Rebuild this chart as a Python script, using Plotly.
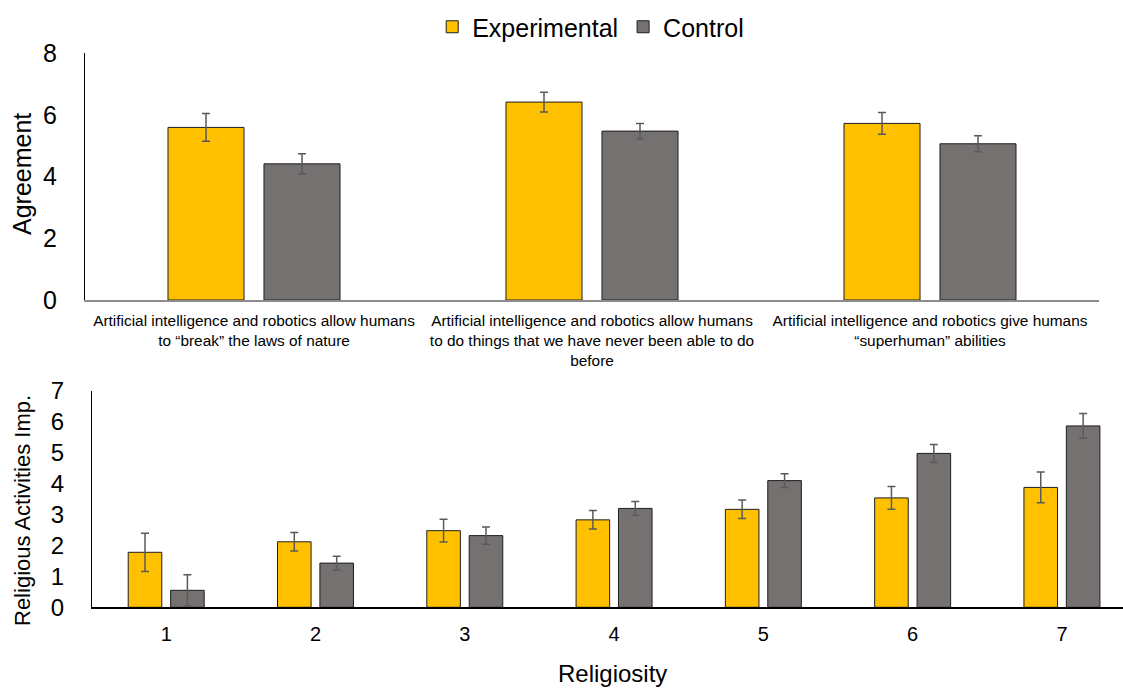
import plotly.graph_objects as go

# Panel A: agreement with statements about AI and robotics
statements = [
    "Artificial intelligence and robotics allow humans<br>to \u201cbreak\u201d the laws of nature",
    "Artificial intelligence and robotics allow humans<br>to do things that we have never been able to do<br>before",
    "Artificial intelligence and robotics give humans<br>\u201csuperhuman\u201d abilities",
]
agree_exp = [5.59, 6.41, 5.72]
agree_exp_err = [0.45, 0.32, 0.35]
agree_ctrl = [4.41, 5.47, 5.06]
agree_ctrl_err = [0.33, 0.25, 0.26]

# Panel B: importance of religious activities by religiosity level
religiosity = [1, 2, 3, 4, 5, 6, 7]
relig_exp = [1.78, 2.12, 2.48, 2.83, 3.17, 3.54, 3.88]
relig_exp_err = [0.62, 0.30, 0.37, 0.30, 0.30, 0.37, 0.50]
relig_ctrl = [0.55, 1.43, 2.32, 3.20, 4.10, 4.98, 5.87]
relig_ctrl_err = [0.50, 0.22, 0.28, 0.22, 0.22, 0.29, 0.40]

W, H = 1123, 689
FONT = "Arial, Liberation Sans, sans-serif"
GOLD = "#FFC000"
GREY = "#767171"
ERR = "#5a5a5a"
EDGE = "#1e1e1e"


def err(vals):
    return dict(type="data", array=vals, visible=True, color=ERR, thickness=1.5, width=4)


fig = go.Figure()
fig.add_trace(go.Bar(x=statements, y=agree_exp, name="Experimental", marker=dict(color=GOLD, line=dict(color=EDGE, width=1)),
                     error_y=err(agree_exp_err), xaxis="x", yaxis="y", legendgroup="e"))
fig.add_trace(go.Bar(x=statements, y=agree_ctrl, name="Control", marker=dict(color=GREY, line=dict(color=EDGE, width=1)),
                     error_y=err(agree_ctrl_err), xaxis="x", yaxis="y", legendgroup="c"))
fig.add_trace(go.Bar(x=religiosity, y=relig_exp, name="Experimental", marker=dict(color=GOLD, line=dict(color=EDGE, width=1)),
                     error_y=err(relig_exp_err), xaxis="x2", yaxis="y2", legendgroup="e", showlegend=False))
fig.add_trace(go.Bar(x=religiosity, y=relig_ctrl, name="Control", marker=dict(color=GREY, line=dict(color=EDGE, width=1)),
                     error_y=err(relig_ctrl_err), xaxis="x2", yaxis="y2", legendgroup="c", showlegend=False))


def px_x(p):
    return p / W


def px_y(p):
    return 1 - p / H


fig.update_layout(
    width=W, height=H,
    margin=dict(l=0, r=0, t=0, b=0, autoexpand=False),
    paper_bgcolor="white", plot_bgcolor="white",
    font=dict(family=FONT, color="black"),
    barmode="group", bargap=0.432, bargroupgap=0.208,
    showlegend=True,
    legend=dict(orientation="h", x=0.526, xanchor="center", y=px_y(27), yanchor="middle",
                font=dict(size=25, family=FONT), itemwidth=30, traceorder="normal"),
    xaxis=dict(domain=[px_x(85), px_x(1099)], anchor="y", showline=True, linecolor="#8c8c8c", linewidth=1.5,
               ticks="", tickfont=dict(size=15.4, family=FONT), ticklabelstandoff=6, showgrid=False, zeroline=False),
    yaxis=dict(domain=[px_y(300), px_y(53)], anchor="x", range=[0, 8], dtick=2, showline=True, linecolor="black",
               linewidth=1, ticks="", tickfont=dict(size=25, family=FONT), ticklabelstandoff=22,
               showgrid=False, zeroline=False),
    xaxis2=dict(domain=[px_x(92), 1.0], anchor="y2", range=[0.503, 7.409], tickvals=religiosity,
                showline=True, linecolor="black", linewidth=2, ticks="", tickfont=dict(size=20, family=FONT),
                ticklabelstandoff=8, showgrid=False, zeroline=False),
    yaxis2=dict(domain=[px_y(607.3), px_y(391)], anchor="x2", range=[0, 7], dtick=1, showline=True,
                linecolor="black", linewidth=1, ticks="", tickfont=dict(size=24, family=FONT),
                ticklabelstandoff=22, showgrid=False, zeroline=False),
    annotations=[
        dict(text="Agreement", x=px_x(22), y=px_y(174), xref="paper", yref="paper", textangle=-90,
             showarrow=False, font=dict(size=25, family=FONT), xanchor="center", yanchor="middle"),
        dict(text="Religious Activities Imp.", x=px_x(22), y=px_y(511), xref="paper", yref="paper",
             textangle=-90, showarrow=False, font=dict(size=22, family=FONT), xanchor="center", yanchor="middle"),
        dict(text="Religiosity", x=px_x(612), y=px_y(673), xref="paper", yref="paper", showarrow=False,
             font=dict(size=24, family=FONT), xanchor="center", yanchor="middle"),
    ],
)

fig.write_html("out.html")
